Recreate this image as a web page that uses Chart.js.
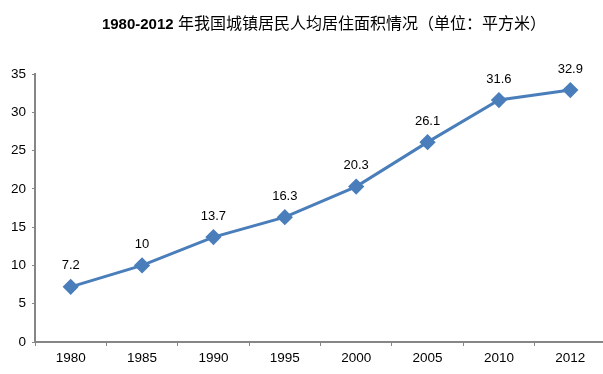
<!DOCTYPE html>
<html>
<head>
<meta charset="utf-8">
<script src="https://cdn.jsdelivr.net/npm/chart.js@4"></script>
<style>
  body { margin: 0; background: #fff; overflow: hidden; }
  #wrap { width: 603px; height: 374px; overflow: hidden; }
</style>
</head>
<body>
<div id="wrap"><canvas id="areaChart" width="615" height="374"></canvas></div>
<script>
const years = ["1980", "1985", "1990", "1995", "2000", "2005", "2010", "2012"];
const area = [7.2, 10, 13.7, 16.3, 20.3, 26.1, 31.6, 32.9];
const yTicks = [0, 5, 10, 15, 20, 25, 30, 35];
const titleYears = "1980-2012";
const titleRest = " 年我国城镇居民人均居住面积情况（单位：平方米）";

const fontFamily = '"Liberation Sans", Arial, "Noto Sans CJK SC", sans-serif';

// title: bold years, regular chinese, centred a bit right like the original
const titlePlugin = {
  id: 'titleText',
  afterDraw(chart) {
    const ctx = chart.ctx;
    ctx.save();
    ctx.fillStyle = '#000';
    ctx.textBaseline = 'middle';
    ctx.textAlign = 'left';
    const boldFont = 'bold 15px ' + fontFamily;
    const plainFont = '16px ' + fontFamily;
    ctx.font = boldFont;
    const w1 = ctx.measureText(titleYears).width;
    ctx.font = plainFont;
    const w2 = ctx.measureText(titleRest).width;
    let x = 324 - (w1 + w2) / 2;
    ctx.font = boldFont;
    ctx.fillText(titleYears, x, 25);
    ctx.font = plainFont;
    ctx.fillText(titleRest, x + w1, 25);
    ctx.restore();
  }
};

// value labels above each point
const valueLabels = {
  id: 'valueLabels',
  afterDatasetsDraw(chart) {
    const ctx = chart.ctx;
    const meta = chart.getDatasetMeta(0);
    ctx.save();
    ctx.font = '13px ' + fontFamily;
    ctx.fillStyle = '#000';
    ctx.textAlign = 'center';
    ctx.textBaseline = 'middle';
    meta.data.forEach((pt, i) => {
      ctx.fillText(String(area[i]), pt.x, pt.y - 21);
    });
    ctx.restore();
  }
};

function initializeChart() {
  const ctx = document.getElementById("areaChart").getContext("2d");
  new Chart(ctx, {
    type: 'line',
    data: {
      labels: years,
      datasets: [{
        data: area,
        borderColor: '#4A7EBB',
        backgroundColor: '#4A7EBB',
        borderWidth: 3,
        pointStyle: 'rectRot',
        pointRadius: 6,
        pointHoverRadius: 6,
        tension: 0
      }]
    },
    options: {
      responsive: false,
      animation: false,
      layout: { padding: { top: 74, right: 0, left: 0, bottom: 0 } },
      plugins: {
        legend: { display: false },
        tooltip: { enabled: false },
        title: { display: false }
      },
      scales: {
        x: {
          offset: true,
          grid: { offset: true, drawOnChartArea: false, drawTicks: true, tickLength: 4, color: '#868686' },
          border: { color: '#868686', width: 2 },
          ticks: { color: '#000', font: { family: fontFamily, size: 13.5 }, padding: 4, maxRotation: 0 },
          afterFit(scale) { scale.height = 32; }
        },
        y: {
          min: 0,
          max: 35,
          afterBuildTicks(scale) { scale.ticks = yTicks.map(v => ({ value: v })); },
          grid: { drawOnChartArea: false, drawTicks: true, tickLength: 3, color: '#868686' },
          border: { color: '#868686', width: 2 },
          ticks: { color: '#000', font: { family: fontFamily, size: 13.5 }, padding: 6 },
          afterFit(scale) { scale.width = 35; }
        }
      }
    },
    plugins: [titlePlugin, valueLabels]
  });
}

window.onload = initializeChart;
</script>
</body>
</html>
